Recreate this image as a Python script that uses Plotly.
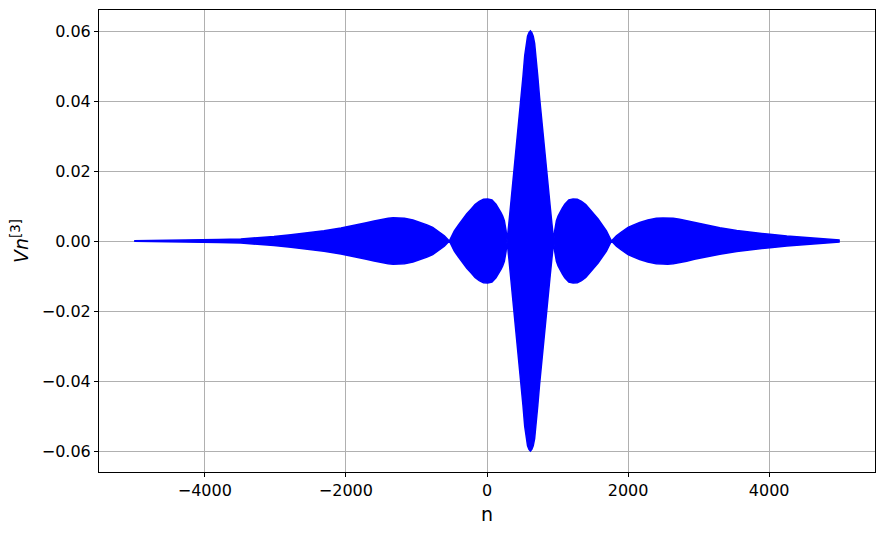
import plotly.graph_objects as go

# Envelope of the oscillating signal (n, half amplitude)
n_env = [-5000, -4600, -4200, -3800, -3490, -3250, -3020, -2780, -2540, -2310,
         -2070, -1830, -1710, -1600, -1500, -1400, -1330, -1270, -1170, -1050,
         -935, -850, -770, -670, -605, -534,
         -463, -404, -345, -286, -227, -170, -110, -50, 10, 70, 127, 162, 198, 222, 246, 270, 284,
         310, 335, 356, 378, 405, 435, 460, 485, 510, 535, 555, 575, 595, 615,
         635, 655, 675, 695, 720, 745, 770, 795, 825, 852, 874, 895, 920, 946,
         960, 984, 1008, 1032, 1068, 1103, 1160, 1220, 1280, 1340, 1400, 1457, 1516, 1575, 1634, 1693, 1764,
         1835, 1900, 2000, 2080, 2165, 2280, 2400, 2495, 2560, 2640, 2730, 2830, 2940, 3060,
         3300, 3540, 3770, 4010, 4250, 4480, 4720, 5000]
amp_env = [0.0001, 0.00015, 0.00025, 0.0004, 0.0006, 0.0009, 0.0013, 0.0018, 0.0023, 0.0029,
           0.0037, 0.0046, 0.0052, 0.0057, 0.0062, 0.0065, 0.00665, 0.0066, 0.0065, 0.0060,
           0.0053, 0.0046, 0.0039, 0.0025, 0.0015, 0.0,
           0.0029, 0.0046, 0.0063, 0.0078, 0.0091, 0.0104, 0.0113, 0.0119, 0.0120, 0.0117, 0.0105, 0.0094, 0.0081, 0.0071, 0.0058, 0.0030, 0.0,
           0.005, 0.010, 0.0145, 0.019, 0.0245, 0.030, 0.0355, 0.041, 0.047, 0.053, 0.0565, 0.0585, 0.0595, 0.060,
           0.0595, 0.0585, 0.0565, 0.053, 0.047, 0.041, 0.0355, 0.030, 0.0245, 0.019, 0.0145, 0.010, 0.005, 0.0,
           0.0030, 0.0058, 0.0071, 0.0081, 0.0094, 0.0105, 0.0117, 0.0120, 0.0119, 0.0113, 0.0104, 0.0091, 0.0078, 0.0063, 0.0046, 0.0029, 0.0,
           0.0015, 0.0025, 0.0039, 0.0046, 0.0053, 0.0060, 0.0065, 0.0066, 0.00665, 0.0065, 0.0062, 0.0058, 0.0052, 0.0047,
           0.0038, 0.0030, 0.0024, 0.0019, 0.0014, 0.0010, 0.0007, 0.0003]

x_ticks = [-4000, -2000, 0, 2000, 4000]
y_ticks = [-0.06, -0.04, -0.02, 0.00, 0.02, 0.04, 0.06]

blue = '#0000ff'
fig = go.Figure()

# upper edge
fig.add_trace(go.Scatter(
    x=n_env, y=amp_env, mode='lines',
    line=dict(color=blue, width=1.5),
    showlegend=False, hoverinfo='skip'
))
# lower edge, filled up to the upper one
fig.add_trace(go.Scatter(
    x=n_env, y=[-a for a in amp_env], mode='lines',
    line=dict(color=blue, width=1.5),
    fill='tonexty', fillcolor=blue,
    showlegend=False, hoverinfo='skip'
))

axis_style = dict(
    showline=True, linecolor='black', linewidth=1, mirror=True,
    showgrid=True, gridcolor='#b0b0b0', gridwidth=0.8,
    zeroline=False, automargin=False,
    ticks='outside', ticklen=4, tickcolor='black',
    tickfont=dict(size=16, color='black'),
)

fig.update_xaxes(
    range=[-5500, 5500], tickvals=x_ticks,
    title=dict(text='n', font=dict(size=19, color='black'), standoff=8),
    **axis_style
)
fig.update_yaxes(
    range=[-0.066, 0.066], tickvals=y_ticks, tickformat='.2f',
    title=dict(text='<i>Vn</i><sup>[3]</sup>', font=dict(size=19, color='black'), standoff=10),
    **axis_style
)

# page body adds an 8px offset, so the figure is 8px smaller and margins shifted
fig.update_layout(
    width=876, height=526,
    margin=dict(l=91, r=9, t=2, b=62),
    paper_bgcolor='white', plot_bgcolor='white',
    font=dict(family='DejaVu Sans', color='black'),
)

fig.write_html("out.html")
